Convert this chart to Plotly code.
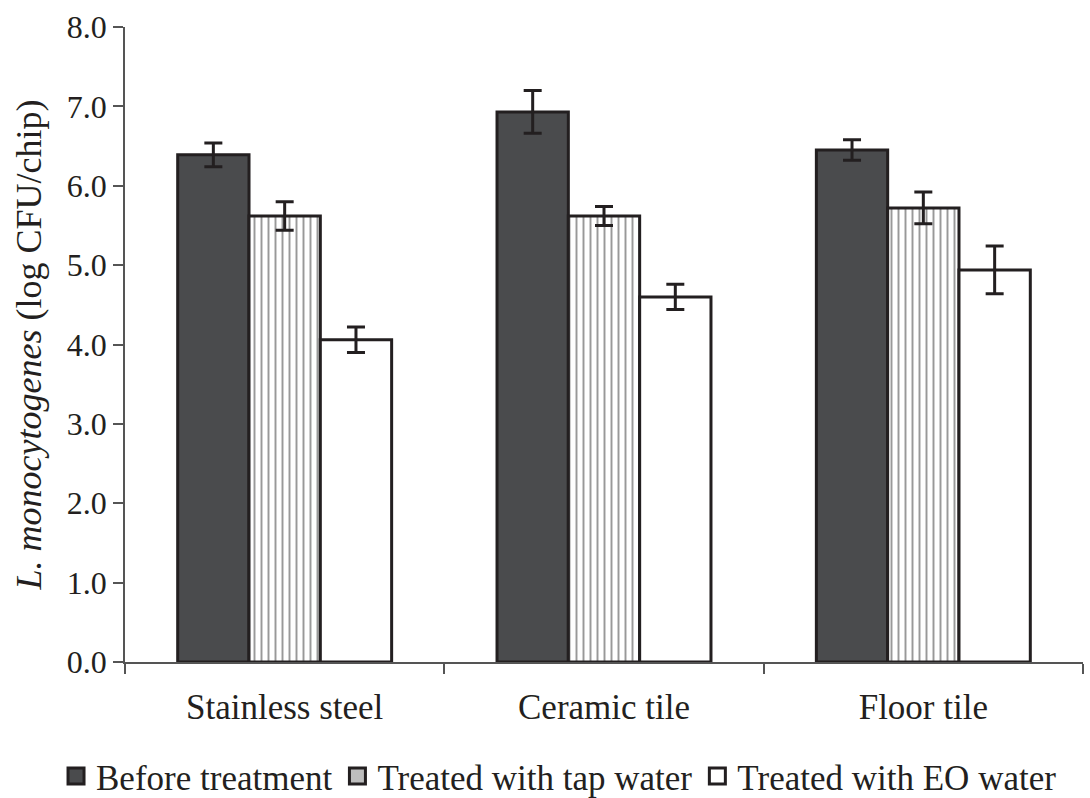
import plotly.graph_objects as go

categories = ["Stainless steel", "Ceramic tile", "Floor tile"]
series_names = ["Before treatment", "Treated with tap water", "Treated with EO water"]
before = [6.39, 6.93, 6.45]
before_err = [0.15, 0.27, 0.13]
tap = [5.62, 5.62, 5.72]
tap_err = [0.18, 0.12, 0.20]
eo = [4.06, 4.60, 4.94]
eo_err = [0.16, 0.16, 0.30]
y_ticks = [0, 1, 2, 3, 4, 5, 6, 7, 8]

ink = "#231f20"
dark = "#4a4b4d"
font_family = "Liberation Serif, Times New Roman, serif"

fig = go.Figure()

err_style = dict(type="data", visible=True, thickness=3, width=9, color=ink)

fig.add_trace(go.Bar(
    name=series_names[0], x=categories, y=before, showlegend=False,
    error_y=dict(array=before_err, **err_style),
    marker=dict(color=dark, line=dict(color=ink, width=3)),
))
fig.add_trace(go.Bar(
    name=series_names[1], x=categories, y=tap, showlegend=False,
    error_y=dict(array=tap_err, **err_style),
    marker=dict(color="white", line=dict(color=ink, width=3),
                pattern=dict(shape="|", fgcolor="#333333", bgcolor="white",
                             size=7, solidity=0.28)),
))
fig.add_trace(go.Bar(
    name=series_names[2], x=categories, y=eo, showlegend=False,
    error_y=dict(array=eo_err, **err_style),
    marker=dict(color="white", line=dict(color=ink, width=3)),
))

# legend entries (large square swatches as in the reference)
legend_fills = [dark, "#bdbdbd", "white"]
for name, fill in zip(series_names, legend_fills):
    fig.add_trace(go.Scatter(
        name=name, x=[None], y=[None], mode="markers",
        marker=dict(symbol="square", size=26, color=fill, line=dict(color=ink, width=3)),
    ))

fig.update_layout(
    width=1090, height=798,
    margin=dict(l=125, r=7, t=27, b=136, autoexpand=False),
    paper_bgcolor="white", plot_bgcolor="white",
    barmode="group", bargap=0.33, bargroupgap=0,
    font=dict(family=font_family, size=35, color=ink),
    showlegend=True,
    legend=dict(orientation="h", xref="paper", yref="paper",
                x=-0.072, xanchor="left", y=-0.18, yanchor="middle",
                font=dict(size=35), traceorder="normal", itemwidth=30),
    xaxis=dict(
        showline=True, linecolor="#555555", linewidth=1.5,
        ticks="outside", tickson="boundaries", ticklen=10, tickcolor="#555555",
        tickwidth=1.5, showgrid=False, tickfont=dict(size=35), automargin=False,
        ticklabelstandoff=13,
    ),
    yaxis=dict(
        range=[0, 8], tickvals=y_ticks,
        ticktext=[f"{v:.1f}" for v in y_ticks],
        showline=True, linecolor="#555555", linewidth=1.5,
        ticks="outside", ticklen=10, tickcolor="#555555", tickwidth=1.5,
        showgrid=False, zeroline=False, tickfont=dict(size=32), automargin=False,
        title=dict(text="<i>L. monocytogenes</i> (log CFU/chip)", font=dict(size=36), standoff=14),
    ),
)

fig.write_html(
    "out.html",
    config={"displayModeBar": False},
    post_script="document.body.style.margin='0';document.body.style.overflow='hidden';"
                "document.documentElement.style.overflow='hidden';",
)
